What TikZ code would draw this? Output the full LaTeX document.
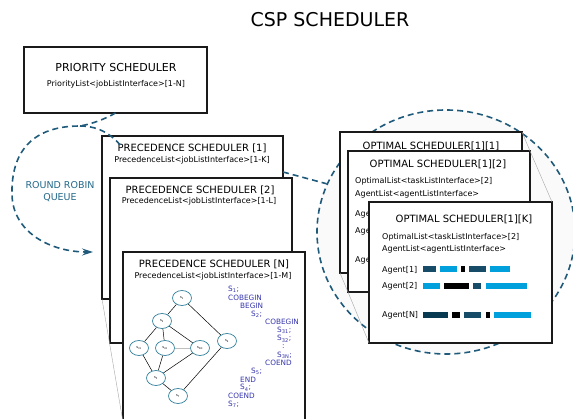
\documentclass[tikz,border=0pt]{standalone}
\usepackage{fontspec}
\setmainfont{DejaVu Sans}
\usetikzlibrary{shapes.geometric,arrows.meta}
\definecolor{dashcol}{HTML}{1F5A7A}
\definecolor{rrcol}{HTML}{22688A}
\definecolor{codecol}{HTML}{3535AE}
\definecolor{nodecol}{HTML}{2F7F9A}
\definecolor{boxcol}{HTML}{1A1A1A}
\definecolor{tealbar}{HTML}{164C68}
\definecolor{navybar}{HTML}{073A50}
\definecolor{cyanbar}{HTML}{00A0DC}
\definecolor{zoomfill}{HTML}{FAFAFA}
\begin{document}
\begin{tikzpicture}[x=1pt,y=-1pt,
  box/.style={draw=boxcol, line width=1.5pt, fill=white, anchor=north west, inner sep=0, outer sep=0},
  ttl/.style={inner sep=0, font=\fontsize{10}{12}\selectfont},
  sub/.style={inner sep=0, font=\fontsize{8}{10}\selectfont},
  lft/.style={sub, anchor=west},
  dashln/.style={draw=dashcol, line width=1.6pt, dash pattern=on 6pt off 4pt},
  persp/.style={draw=gray!70, line width=0.4pt},
  gnode/.style={ellipse, draw=nodecol, line width=0.7pt, fill=white, minimum width=19pt, minimum height=15pt, inner sep=0, font=\fontsize{3.5}{4}\selectfont},
  gedge/.style={line width=0.5pt, draw=black},
  code/.style={anchor=west, inner sep=0, text=codecol, font=\fontsize{7.3}{8}\selectfont}
]
\clip (0,0) rectangle (573,419);

% title
\node[inner sep=0, font=\fontsize{19}{22}\selectfont] (title) at (330,20) {CSP SCHEDULER};

% zoom ellipse
\node[ellipse, dashln, fill=zoomfill, minimum width=258pt, minimum height=244pt, inner sep=0] (zoomc) at (446,232) {};

% priority scheduler
\node[box, minimum width=183pt, minimum height=66pt] (prio) at (24,47) {};
\node[inner sep=0, font=\fontsize{11}{13}\selectfont] (priot) at (116,68) {PRIORITY SCHEDULER};
\node[sub] (prios) at (116,84) {PriorityList<jobListInterface>[1-N]};

% round robin loop
\coordinate (hump) at (80,126);
\coordinate (p1in) at (121,146);
\coordinate (loopend) at (93,252);
\draw[dashln, -{Stealth[length=11pt,width=7pt,inset=4pt]}] (prio.south) .. controls (105,119) and (92,124) .. (hump)
  .. controls (25,126) and (11,160) .. (12,195)
  .. controls (13,232) and (50,252) .. (loopend);
\node[inner sep=0, align=center, text=rrcol, font=\fontsize{9.5}{12}\selectfont] (rr) at (60,192) {ROUND ROBIN\\QUEUE};

% precedence schedulers
\node[box, minimum width=181pt, minimum height=163pt] (p1) at (102,136) {};
\node[ttl] (p1t) at (192,148) {PRECEDENCE SCHEDULER [1]};
\node[sub] (p1s) at (192,160) {PrecedenceList<jobListInterface>[1-K]};
\coordinate (p1out) at (283,172);
\draw[dashln] (p1out) -- (zoomc.158);

\node[box, minimum width=182pt, minimum height=165pt] (p2) at (110,178) {};
\node[ttl] (p2t) at (200,190) {PRECEDENCE SCHEDULER [2]};
\node[sub] (p2s) at (199,201) {PrecedenceList<jobListInterface>[1-L]};

\node[box, minimum width=182pt, minimum height=170pt] (pN) at (123,252) {};
\node[ttl] (pNt) at (214,264) {PRECEDENCE SCHEDULER [N]};
\node[sub] (pNs) at (213,276) {PrecedenceList<jobListInterface>[1-M]};

\draw[persp] (p1.south west) -- (pN.south west);
\draw[dashln] (hump) .. controls (100,126) and (113,136) .. (p1in);

% graph
\node[gnode] (s1) at (182,298) {s\textsubscript{1}};
\node[gnode] (s2) at (162,321) {s\textsubscript{2}};
\node[gnode] (s31) at (139,348) {s\textsubscript{31}};
\node[gnode] (s32) at (165,348) {s\textsubscript{32}};
\node[gnode] (s3n) at (200,348) {s\textsubscript{3N}};
\node[gnode] (s4) at (227,341) {s\textsubscript{4}};
\node[gnode] (s5) at (156,378) {s\textsubscript{5}};
\node[gnode] (s7) at (178,396) {s\textsubscript{7}};
\draw[gedge] (s1) -- (s2);
\draw[gedge] (s1) -- (s4);
\draw[gedge] (s2) -- (s31);
\draw[gedge] (s2) -- (s32);
\draw[gedge] (s2) -- (s3n);
\draw[gedge] (s31) -- (s5);
\draw[gedge] (s32) -- (s5);
\draw[gedge] (s3n) -- (s5);
\draw[gedge] (s5) -- (s7);
\draw[gedge] (s4) -- (s7);
\draw[draw=gray!50, line width=0.4pt] (s32) -- (s3n);

% code listing
\node[code] (c1) at (228,289.5) {S\textsubscript{1};};
\node[code] (c2) at (228,297.7) {COBEGIN};
\node[code] (c3) at (240,305.9) {BEGIN};
\node[code] (c4) at (251,314.1) {S\textsubscript{2};};
\node[code] (c5) at (265,322.3) {COBEGIN};
\node[code] (c6) at (277,330.5) {S\textsubscript{31};};
\node[code] (c7) at (277,338.7) {S\textsubscript{32};};
\node[code] (c8) at (282,346.9) {:};
\node[code] (c9) at (277,355.1) {S\textsubscript{3N};};
\node[code] (c10) at (265,363.3) {COEND};
\node[code] (c11) at (251,371.5) {S\textsubscript{5};};
\node[code] (c12) at (240,379.7) {END};
\node[code] (c13) at (240,387.9) {S\textsubscript{4};};
\node[code] (c14) at (228,396.1) {COEND};
\node[code] (c15) at (228,404.3) {S\textsubscript{7};};

% optimal schedulers
\node[box, minimum width=182pt, minimum height=141pt] (o11) at (340,132) {};
\node[ttl] (o11t) at (431,146) {OPTIMAL SCHEDULER[1][1]};

\node[box, minimum width=182pt, minimum height=141pt] (o12) at (348,151) {};
\node[ttl] (o12t) at (438,164) {OPTIMAL SCHEDULER[1][2]};
\node[lft] (o12a) at (355,181) {OptimalList<taskListInterface>[2]};
\node[lft] (o12b) at (355,194) {AgentList<agentListInterface>};
\node[lft] (o12c) at (355,214) {Agent[1]};
\node[lft] (o12d) at (355,231) {Agent[2]};
\node[lft] (o12e) at (355,260) {Agent[N]};

\draw[persp] (o11.north east) -- (o12.north east);
\draw[persp] (o11.south west) -- (o12.south west);

\node[box, minimum width=183pt, minimum height=141pt] (o1K) at (369,202) {};
\draw[persp] (o12.north east) -- (o1K.north east);
\draw[persp] (o12.south west) -- (o1K.south west);
\node[ttl] (o1Kt) at (464,219) {OPTIMAL SCHEDULER[1][K]};
\node[lft] (o1Ka) at (382,237) {OptimalList<taskListInterface>[2]};
\node[lft] (o1Kb) at (382,249.5) {AgentList<agentListInterface>};
\node[lft] (ag1) at (382,270) {Agent[1]};
\node[lft] (ag2) at (382,286) {Agent[2]};
\node[lft] (agN) at (382,315) {Agent[N]};

% agent bars
\fill[tealbar] (423,266) rectangle (436,272);
\fill[cyanbar] (440,266) rectangle (457,272);
\fill[black]   (461,266) rectangle (465,272);
\fill[tealbar] (469,266) rectangle (486,272);
\fill[cyanbar] (490,266) rectangle (510,272);

\fill[cyanbar] (423,283) rectangle (440,289);
\fill[black]   (444,283) rectangle (469,289);
\fill[tealbar] (473,283) rectangle (481,289);
\fill[cyanbar] (486,283) rectangle (527,289);

\fill[navybar] (423,312) rectangle (448,318);
\fill[black]   (452,312) rectangle (460,318);
\fill[tealbar] (464,312) rectangle (481,318);
\fill[black]   (486,312) rectangle (490,318);
\fill[cyanbar] (494,312) rectangle (531,318);
\end{tikzpicture}
\end{document}
